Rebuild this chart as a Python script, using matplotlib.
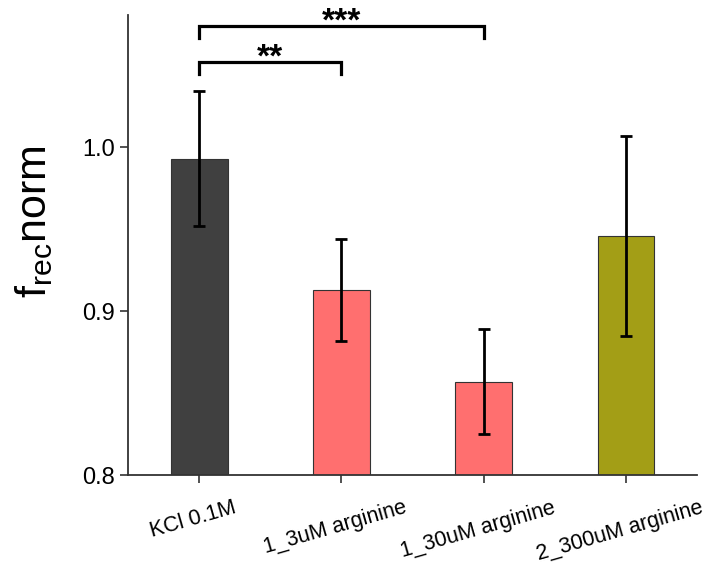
import matplotlib
matplotlib.use("Agg")
import matplotlib.pyplot as plt
import matplotlib.transforms as mtransforms
import numpy as np

categories = ["KCl 0.1M", "1_3uM arginine", "1_30uM arginine", "2_300uM arginine"]
values = [0.993, 0.913, 0.857, 0.946]
errors = [0.041, 0.031, 0.032, 0.061]
colors = ["#404040", "#FF6F6F", "#FF6F6F", "#A39E16"]
ytick_vals = [0.8, 0.9, 1.0]
ytick_labels = ["0.8", "0.9", "1.0"]
brackets = [(0, 1, 1.0518, "**"), (0, 2, 1.0738, "***")]

plt.rcParams['font.family'] = ['Liberation Sans', 'DejaVu Sans']

fig = plt.figure(figsize=(7.15, 5.65), dpi=100)
ax = fig.add_axes([0.179, 0.159, 0.796, 0.814])

x = np.arange(len(categories))
ax.bar(x, values, width=0.4, color=colors, edgecolor="#333333", linewidth=0.8, zorder=2)
ax.errorbar(x, values, yerr=errors, fmt="none", ecolor="black", elinewidth=2,
            capsize=4.3, capthick=2, zorder=3)

ax.set_xlim(-0.5, 3.5)
ax.set_ylim(0.8, 1.0805)
ax.set_yticks(ytick_vals)
ax.set_yticklabels(ytick_labels, fontsize=17)
ax.set_xticks(x)
ax.set_xticklabels(categories, fontsize=15.5, rotation=16, ha="center")
ax.tick_params(axis="both", direction="out", length=6, width=1.2, color="#333333")
ax.tick_params(axis="x", pad=10)
offset = mtransforms.ScaledTranslation(-0.06, 0, fig.dpi_scale_trans)
for lab in ax.get_xticklabels():
    lab.set_transform(lab.get_transform() + offset)
for s in ["top", "right"]:
    ax.spines[s].set_visible(False)
for s in ["left", "bottom"]:
    ax.spines[s].set_linewidth(1.3)
    ax.spines[s].set_color("#333333")

ax.set_ylabel(r"f$_{\mathregular{rec}}$norm", fontsize=31)
ax.yaxis.set_label_coords(-0.128, 0.55)

leg = 0.0072
for i, j, y, txt in brackets:
    ax.plot([x[i], x[i], x[j], x[j]], [y - leg, y, y, y - leg], color="black",
            lw=2.3, solid_joinstyle="miter", clip_on=False, zorder=4)
    ax.text((x[i] + x[j]) / 2, y - 0.0028, txt, ha="center", va="baseline",
            fontsize=24, fontweight="bold", clip_on=False)

fig.savefig("out.png", dpi=100)
